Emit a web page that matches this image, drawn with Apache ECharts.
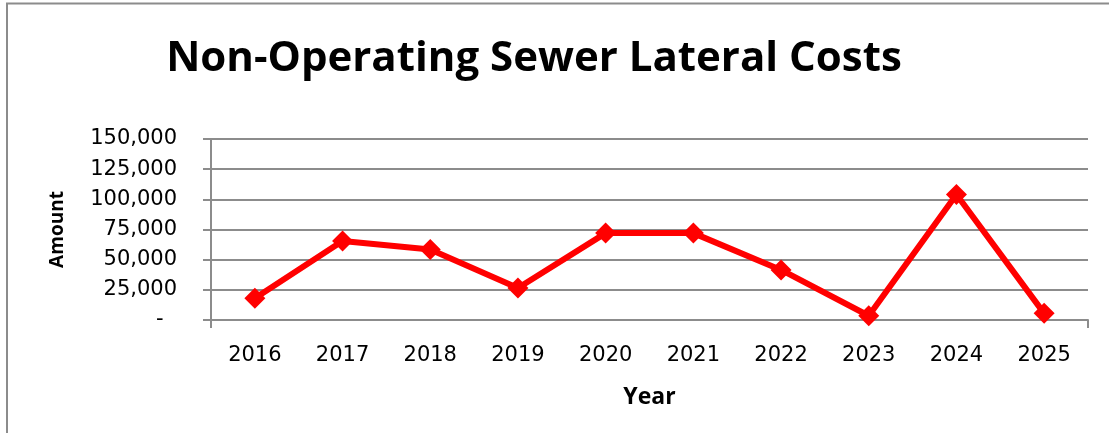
<!DOCTYPE html>
<html>
<head>
<meta charset="utf-8">
<script src="https://cdn.jsdelivr.net/npm/echarts@6/dist/echarts.min.js"></script>
<style>
  html, body { margin: 0; padding: 0; background: #fff; }
  #main { width: 1109px; height: 433px; }
</style>
</head>
<body>
<div id="main"></div>
<script>
// chart data
const years = ['2016', '2017', '2018', '2019', '2020', '2021', '2022', '2023', '2024', '2025'];
const amounts = [18000, 65500, 58500, 26500, 72000, 72000, 41500, 3500, 104000, 5500];
const yTicks = [0, 25000, 50000, 75000, 100000, 125000, 150000];

const FONT = '"Open Sans", "Liberation Sans", sans-serif';
const TICKFONT = '"DejaVu Sans", sans-serif';
const grey = '#8c8c8c';

let mychart = echarts.init(document.getElementById('main'));

const option = {
  animation: false,
  title: {
    text: 'Non-Operating Sewer Lateral Costs',
    left: 529,
    top: 33,
    textAlign: 'center',
    textStyle: { fontFamily: FONT, fontSize: 42, fontWeight: 'bold', color: '#000' }
  },
  graphic: [
    // partial chart frame (top and left edges)
    { type: 'line', shape: { x1: 6, y1: 3.5, x2: 1109, y2: 3.5 }, style: { stroke: grey, lineWidth: 2 } },
    { type: 'line', shape: { x1: 7, y1: 3, x2: 7, y2: 433 }, style: { stroke: grey, lineWidth: 2 } }
  ],
  grid: { left: 211, right: 21, top: 139, bottom: 113 },
  xAxis: {
    type: 'category',
    data: years,
    name: 'Year',
    nameLocation: 'middle',
    nameGap: 66,
    nameTextStyle: { fontFamily: FONT, fontSize: 23, fontWeight: 'bold', color: '#000' },
    axisLine: { lineStyle: { color: grey, width: 2 } },
    axisTick: { show: true, length: 8, interval: (i) => i === 0, lineStyle: { color: grey, width: 2 } },
    axisLabel: { fontFamily: TICKFONT, fontSize: 21, color: '#000', margin: 25 }
  },
  yAxis: {
    type: 'value',
    min: yTicks[0],
    max: yTicks[yTicks.length - 1],
    interval: 25000,
    name: 'Amount',
    nameLocation: 'middle',
    nameGap: 144,
    nameTextStyle: { fontFamily: FONT, fontSize: 19, fontWeight: 'bold', color: '#000' },
    axisLine: { show: true, lineStyle: { color: grey, width: 2 } },
    axisTick: { show: true, length: 8, lineStyle: { color: grey, width: 2 } },
    axisLabel: {
      fontFamily: TICKFONT, fontSize: 21, color: '#000', margin: 34,
      formatter: (v) => v === 0 ? '-  ' : v.toLocaleString('en-US')
    },
    splitLine: { lineStyle: { color: grey, width: 2 } }
  },
  series: [
    {
      name: 'Amount',
      type: 'line',
      data: amounts,
      symbol: 'diamond',
      symbolSize: [21, 21],
      lineStyle: { color: '#ff0000', width: 6 },
      itemStyle: { color: '#ff0000' }
    }
  ]
};

mychart.setOption(option);
</script>
</body>
</html>
